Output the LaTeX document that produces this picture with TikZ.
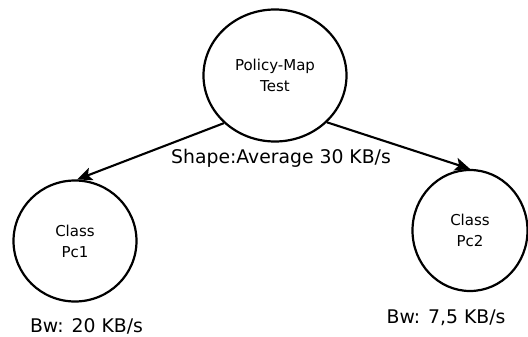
\documentclass[tikz,border=0pt]{standalone}
\usepackage{fontspec}
\setmainfont{DejaVu Sans}
\usetikzlibrary{shapes.geometric,arrows.meta}
\begin{document}
\begin{tikzpicture}[x=1pt,y=-1pt,
  bubble/.style={draw=black, line width=2.2pt, ellipse, inner sep=0pt, align=center,
    font=\fontsize{15}{21}\selectfont},
  conn/.style={line width=2.1pt, -{Stealth[length=15pt,width=13pt,inset=3.5pt]}},
  lbl/.style={anchor=base, inner sep=0pt, font=\fontsize{18.8}{22}\selectfont}]
\useasboundingbox (0,0) rectangle (528,337);
\node[bubble, minimum width=143pt, minimum height=132pt] (top) at (275,75.5) {Policy-Map\\Test};
\node[bubble, minimum width=123pt, minimum height=121pt] (left) at (75,241) {Class\\Pc1};
\node[bubble, minimum width=115pt, minimum height=121pt] (right) at (470,230.5) {Class\\Pc2};
\draw[conn] (top.223) -- (left.88);
\draw[conn] (top.318) -- (right.north);
\node[lbl] (shape) at (281,163) {Shape:Average 30 KB/s};
\node[lbl] (bw1) at (86.5,332) {Bw: 20 KB/s};
\node[lbl] (bw2) at (446,323) {Bw: 7,5 KB/s};
\end{tikzpicture}
\end{document}
